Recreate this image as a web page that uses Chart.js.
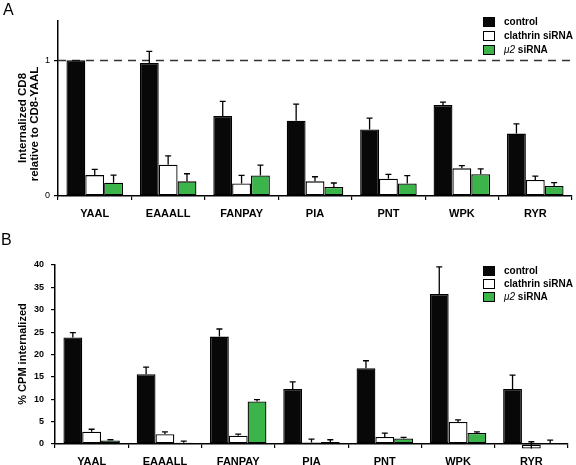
<!DOCTYPE html>
<html>
<head>
<meta charset="utf-8">
<script src="https://cdn.jsdelivr.net/npm/chart.js@4.4.1/dist/chart.umd.min.js"></script>
<style>
  body { margin: 0; background: #fff; }
  canvas { display: block; }
</style>
</head>
<body>
<canvas id="chartA" width="576" height="232"></canvas>
<canvas id="chartB" width="576" height="233"></canvas>
<script>
// data
const peptides = ['YAAL', 'EAAALL', 'FANPAY', 'PIA', 'PNT', 'WPK', 'RYR']
const seriesNames = ['control', 'clathrin siRNA', 'μ2 siRNA']

// panel A: internalized CD8 relative to CD8-YAAL
const controlA = [1.0, 0.98, 0.59, 0.555, 0.49, 0.67, 0.46]
const controlAErr = [0, 0.086, 0.108, 0.122, 0.084, 0.022, 0.072]
const clathrinA = [0.154, 0.23, 0.093, 0.108, 0.127, 0.204, 0.118]
const clathrinAErr = [0.042, 0.066, 0.059, 0.034, 0.033, 0.02, 0.029]
const mu2A = [0.098, 0.108, 0.152, 0.066, 0.093, 0.16, 0.074]
const mu2AErr = [0.056, 0.056, 0.076, 0.03, 0.057, 0.04, 0.024]
const ticksA = [0, 1]

// panel B: % CPM internalized
const controlB = [23.8, 15.6, 24.0, 12.3, 16.9, 33.5, 12.3]
const controlBErr = [1.1, 1.6, 1.7, 1.6, 1.7, 6.1, 3.1]
const clathrinB = [2.75, 2.2, 1.85, 0.35, 1.55, 4.9, -1.0]
const clathrinBErr = [0.55, 0.5, 0.35, 0.75, 0.9, 0.5, 1.5]
const mu2B = [0.8, 0.3, 9.5, 0.45, 1.25, 2.45, 0.15]
const mu2BErr = [0.15, 0.35, 0.4, 0.5, 0.25, 0.25, 0.7]

const fills = ['#080808', '#ffffff', '#3bb44a']
const FONT = "'Liberation Sans', Arial, Helvetica, sans-serif"
Chart.defaults.font.family = FONT
Chart.defaults.color = '#000'

// error bars (upper side only)
const errorBars = {
  id: 'errorBars',
  afterDatasetsDraw(chart) {
    const c = chart.ctx, ys = chart.scales.y
    chart.data.datasets.forEach((ds, i) => {
      chart.getDatasetMeta(i).data.forEach((bar, j) => {
        const e = ds.errors[j]
        if (!e) return
        const y0 = ys.getPixelForValue(ds.data[j])
        const y1 = ys.getPixelForValue(ds.data[j] + e)
        c.save()
        c.strokeStyle = '#000'
        c.lineWidth = 1.3
        c.beginPath()
        c.moveTo(bar.x, y0); c.lineTo(bar.x, y1)
        c.moveTo(bar.x - 3, y1); c.lineTo(bar.x + 3, y1)
        c.stroke()
        c.restore()
      })
    })
  }
}

// legend boxes, panel letter, y title
const decor = {
  id: 'decor',
  beforeDatasetsDraw(chart, args, o) {
    if (!o.dashAt) return
    const c = chart.ctx, a = chart.chartArea
    const y = Math.round(chart.scales.y.getPixelForValue(o.dashAt)) + 0.5
    c.save()
    c.strokeStyle = '#333'
    c.lineWidth = 1.5
    c.setLineDash([8, 6])
    c.beginPath(); c.moveTo(a.left, y); c.lineTo(a.right, y); c.stroke()
    c.restore()
  },
  afterDraw(chart, args, o) {
    const c = chart.ctx
    c.save()
    c.fillStyle = '#000'
    c.font = '16px ' + FONT
    c.textBaseline = 'top'
    c.fillText(o.letter, o.letterX, o.letterY)

    // y title lines
    c.font = 'bold ' + o.titleSize + 'px ' + FONT
    c.textAlign = 'center'
    c.textBaseline = 'middle'
    o.title.forEach((t, k) => {
      c.save()
      c.translate(o.titleX[k], o.titleY[k])
      c.rotate(-Math.PI / 2)
      c.fillText(t, 0, 0)
      c.restore()
    })

    // legend
    c.textAlign = 'left'
    chart.data.datasets.forEach((ds, i) => {
      const y = o.legendY[i]
      c.fillStyle = ds.backgroundColor
      c.fillRect(o.legendX, y - 5, 12, 10)
      c.strokeStyle = '#000'
      c.lineWidth = 1
      c.strokeRect(o.legendX + 0.5, y - 4.5, 11, 9)
      c.fillStyle = '#000'
      let x = o.legendX + 21
      let txt = ds.label
      if (txt.startsWith('μ2')) {
        c.font = 'italic 10px ' + FONT
        c.fillText('μ2', x, y)
        x += c.measureText('μ2').width
        txt = txt.slice(2)
      }
      c.font = 'bold 10px ' + FONT
      c.fillText(txt, x, y)
    })
    c.restore()
  }
}

function makeSets(vals, errs, clip) {
  return seriesNames.map((n, i) => ({
    label: n,
    data: vals[i],
    errors: errs[i],
    backgroundColor: fills[i],
    borderColor: '#000',
    borderWidth: 1.3,
    borderSkipped: false,
    categoryPercentage: 0.77,
    barPercentage: 1,
    clip: clip
  }))
}

var ctxA = document.getElementById("chartA").getContext('2d')
const chartA = new Chart(ctxA, {
  type: 'bar',
  data: {
    labels: peptides,
    datasets: makeSets([controlA, clathrinA, mu2A], [controlAErr, clathrinAErr, mu2AErr], 5)
  },
  options: {
    responsive: false,
    animation: false,
    devicePixelRatio: 1,
    layout: { padding: { top: 21, right: 4, left: 0, bottom: 0 } },
    scales: {
      x: {
        afterFit: s => { s.height = 36 },
        grid: { display: true, drawOnChartArea: false, tickLength: 4, color: '#000', lineWidth: 1.2 },
        border: { color: '#000', width: 1.5 },
        ticks: { font: { size: 11, weight: 'bold' }, padding: 7, maxRotation: 0 }
      },
      y: {
        min: 0,
        max: 1.29,
        afterFit: s => { s.width = 58 },
        afterBuildTicks: s => { s.ticks = ticksA.map(v => ({ value: v })) },
        grid: { display: true, drawOnChartArea: false, tickLength: 4, color: '#000', lineWidth: 1.2 },
        border: { color: '#000', width: 1.5 },
        ticks: { font: { size: 9 }, padding: 4 }
      }
    },
    plugins: {
      legend: { display: false },
      tooltip: { enabled: false },
      decor: {
        dashAt: 1,
        letter: 'A', letterX: 3, letterY: 3,
        title: ['Internalized CD8', 'relative to CD8-YAAL'],
        titleSize: 11.5,
        titleX: [23, 35], titleY: [118, 124],
        legendX: 483, legendY: [22, 36, 50]
      }
    }
  },
  plugins: [decor, errorBars]
});

var ctxB = document.getElementById("chartB").getContext('2d')
const chartB = new Chart(ctxB, {
  type: 'bar',
  data: {
    labels: peptides,
    datasets: makeSets([controlB, clathrinB, mu2B], [controlBErr, clathrinBErr, mu2BErr], false)
  },
  options: {
    responsive: false,
    animation: false,
    devicePixelRatio: 1,
    layout: { padding: { top: 33, right: 8, left: 0, bottom: 0 } },
    scales: {
      x: {
        afterFit: s => { s.height = 21 },
        grid: { display: true, drawOnChartArea: false, tickLength: 4, color: '#000', lineWidth: 1.2 },
        border: { color: '#000', width: 1.5 },
        ticks: { font: { size: 11, weight: 'bold' }, padding: 7, maxRotation: 0 }
      },
      y: {
        min: 0,
        max: 40,
        afterFit: s => { s.width = 55 },
        grid: { display: true, drawOnChartArea: false, tickLength: 4, color: '#000', lineWidth: 1.2 },
        border: { color: '#000', width: 1.5 },
        ticks: { stepSize: 5, font: { size: 9, weight: 'bold' }, padding: 7 }
      }
    },
    plugins: {
      legend: { display: false },
      tooltip: { enabled: false },
      decor: {
        letter: 'B', letterX: 1, letterY: 1,
        title: ['% CPM internalized'],
        titleSize: 11,
        titleX: [23], titleY: [122],
        legendX: 483, legendY: [39, 52, 65]
      }
    }
  },
  plugins: [decor, errorBars]
});
</script>
</body>
</html>
